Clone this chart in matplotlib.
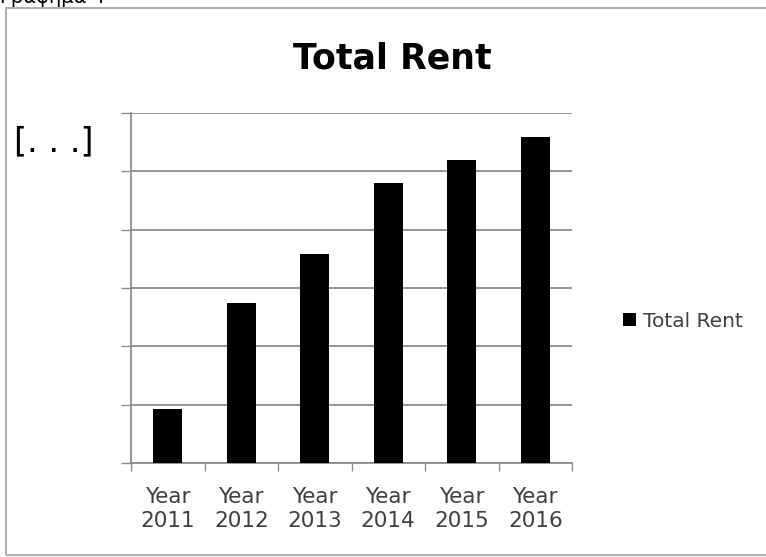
import numpy as np
import matplotlib.pyplot as plt
from matplotlib.patches import Rectangle

# Data (gridline units)
years = ["Year\n2011", "Year\n2012", "Year\n2013", "Year\n2014", "Year\n2015", "Year\n2016"]
total_rent = [0.93, 2.74, 3.58, 4.80, 5.20, 5.59]

plt.rcParams['font.family'] = ['DejaVu Sans']

fig = plt.figure(figsize=(7.66, 5.57), dpi=100)

# Frame round the chart
fig.patches.append(Rectangle((6 / 766, 2 / 557), 0.995, 1 - 10 / 557,
                             transform=fig.transFigure, fill=False,
                             edgecolor='#b0b0b0', linewidth=1.5))

ax = fig.add_axes([131 / 766, 1 - 463 / 557, 441 / 766, 350 / 557])

x = np.arange(len(years))
ax.bar(x, total_rent, width=0.40, color='black', label='Total Rent', zorder=3)

ax.set_xlim(-0.5, 5.5)
ax.set_ylim(0, 6)
ax.set_yticks(np.arange(0, 7))
ax.set_yticklabels([])
ax.grid(axis='y', color='#8c8c8c', linewidth=1.3, zorder=0)
ax.tick_params(axis='y', length=7, color='#8c8c8c', width=1)

ax.set_xticks(x)
ax.set_xticklabels(years, color='#404040', fontsize=15.5, linespacing=1.3)
ax.tick_params(axis='x', length=0, pad=17)
ax.set_xticks(np.arange(-0.5, 6, 1), minor=True)
ax.tick_params(axis='x', which='minor', length=6, color='#8c8c8c', width=1)

for s in ['top', 'right']:
    ax.spines[s].set_visible(False)
for s in ['left', 'bottom']:
    ax.spines[s].set_color('#8c8c8c')
    ax.spines[s].set_linewidth(1.3)

fig.text(392 / 766, 1 - 68 / 557, "Total Rent", ha='center', va='baseline',
         fontsize=25, fontweight='bold')
fig.text(14 / 766, 1 - 142 / 557, "[. . .]", ha='left', va='center', fontsize=24)
fig.text(0, 1 - 3 / 557, "Γράφημα 4", ha='left', va='baseline', fontsize=14)

ax.legend(loc='center left', bbox_to_anchor=(1.075, 0.405), frameon=False,
          handlelength=0.65, handleheight=0.65, handletextpad=0.35,
          prop={'size': 14.5}, labelcolor='#404040')

fig.savefig("out.png", dpi=100)
